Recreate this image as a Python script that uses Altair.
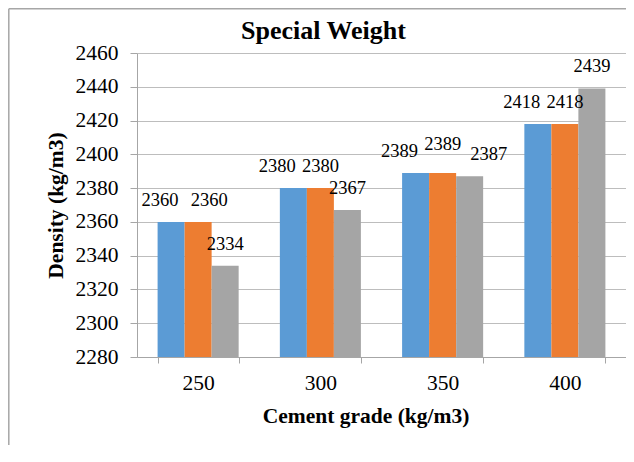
import altair as alt
import pandas as pd

grades = ["250", "300", "350", "400"]
series = ["Series1", "Series2", "Series3"]
series1 = [2360, 2380, 2389, 2418]
series2 = [2360, 2380, 2389, 2418]
series3 = [2334, 2367, 2387, 2439]
y_ticks = [2280, 2300, 2320, 2340, 2360, 2380, 2400, 2420, 2440, 2460]
colors = ["#5B9BD5", "#ED7D31", "#A5A5A5"]

FONT = "Times New Roman, Liberation Serif, Times, serif"
Y_MIN, Y_MAX = 2280, 2460

rows = []
for i, g in enumerate(grades):
    vals = [series1[i], series2[i], series3[i]]
    # simple label collision rule (like Excel's automatic label shifting)
    far_below = (vals[1] - vals[2]) > 20
    clash = abs(vals[1] - vals[2]) < 8
    for k, (s, v) in enumerate(zip(series, vals)):
        if k == 0:
            ldx, ldy = (-11 if far_below else -16), -16
        elif k == 1:
            ldx = 11 if far_below else 0
            ldy = -23 if clash else -16
        else:
            ldx, ldy = (19 if clash else 0), -16
        rows.append({"grade": g, "series": s, "value": v, "base": Y_MIN, "ldx": ldx, "ldy": ldy})
df = pd.DataFrame(rows)

W, H = 489, 304

x_enc = alt.X(
    "grade:N", sort=grades,
    scale=alt.Scale(paddingInner=0.337, paddingOuter=0.1685),
    axis=alt.Axis(
        title="Cement grade (kg/m3)", labelAngle=0, tickBand="extent", grid=False,
        domainColor="#A6A6A6", tickColor="#A6A6A6", tickSize=6,
        labelFont=FONT, labelFontSize=21.5, labelColor="#000000", labelPadding=9,
        titleFont=FONT, titleFontSize=21.5, titleFontWeight="bold", titleColor="#000000",
        titleBaseline="alphabetic", titleY=65, titleX=228.5, titleAlign="center",
    ),
)
xo_enc = alt.XOffset("series:N", sort=series, scale=alt.Scale(paddingInner=0, paddingOuter=0))
y_enc = alt.Y(
    "value:Q",
    scale=alt.Scale(domain=[Y_MIN, Y_MAX], nice=False, zero=False),
    axis=alt.Axis(
        values=y_ticks, format="d", title="Density (kg/m3)",
        grid=True, gridColor="#BDBDBD", domainColor="#A6A6A6", tickColor="#A6A6A6", tickSize=7,
        labelFont=FONT, labelFontSize=21.5, labelColor="#000000", labelPadding=12,
        titleFont=FONT, titleFontSize=21.5, titleFontWeight="bold", titleColor="#000000",
        titleAngle=270, titleBaseline="alphabetic", titleX=-75, titleY=152, titleAlign="center",
    ),
)
color_enc = alt.Color("series:N", sort=series, scale=alt.Scale(domain=series, range=colors), legend=None)

bars = alt.Chart(df).mark_bar(clip=True).encode(
    x=x_enc, xOffset=xo_enc, y=y_enc, y2=alt.Y2("base:Q"), color=color_enc
)

layers = [bars]
combos = sorted(set(zip(df["ldx"], df["ldy"])))
for dx, dy in combos:
    t = (
        alt.Chart(df)
        .transform_filter(f"datum.ldx == {dx} && datum.ldy == {dy}")
        .mark_text(font=FONT, fontSize=18.5, color="#000000", baseline="alphabetic", align="center", dx=int(dx), dy=int(dy))
        .encode(x=x_enc, xOffset=xo_enc, y=y_enc, text=alt.Text("value:Q", format="d"))
    )
    layers.append(t)

border_data = alt.Data(values=[{"b": 1}])
left_border = alt.Chart(border_data).mark_rule(color="#A6A6A6", strokeWidth=1.5).encode(
    x=alt.value(-128.2), y=alt.value(-44.2), y2=alt.value(H + 120)
)
top_border = alt.Chart(border_data).mark_rule(color="#A6A6A6", strokeWidth=1.5).encode(
    x=alt.value(-128.2), x2=alt.value(W + 10), y=alt.value(-44.2)
)
layers += [left_border, top_border]

chart = (
    alt.layer(*layers)
    .properties(
        width=W, height=H,
        title=alt.TitleParams(
            "Special Weight", font=FONT, fontSize=26, fontWeight="bold", color="#000000",
            anchor="middle", dx=-58, offset=-36,
        ),
        autosize=alt.AutoSizeParams(type="none"),
        padding={"left": 129, "top": 45, "right": 0, "bottom": 88},
        background="#FFFFFF",
    )
    .configure_view(strokeWidth=0)
)

chart.save("out.html", embed_options={"renderer": "svg", "actions": False})
